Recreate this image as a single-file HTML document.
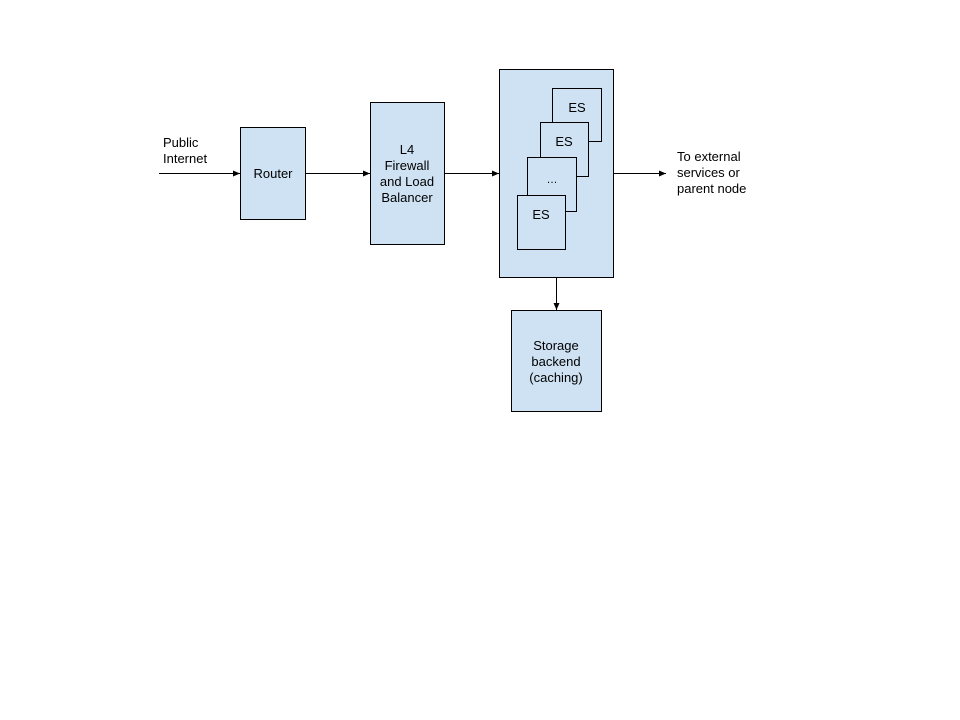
<!DOCTYPE html>
<html><head><style>body{margin:0;background:#fff}svg{display:block}</style></head><body>
<svg width="960" height="720" viewBox="0 0 960 720" xmlns="http://www.w3.org/2000/svg" font-family="Liberation Sans, Arial, sans-serif" font-size="13" fill="#000">
<defs><marker id="a" markerWidth="8" markerHeight="8" refX="7" refY="4" orient="auto" markerUnits="userSpaceOnUse"><path d="M0,1 L7,4 L0,7 z" fill="#000"/></marker></defs>
<g stroke="#000" stroke-width="1">
<line x1="159" y1="173.5" x2="240" y2="173.5" marker-end="url(#a)"/>
<line x1="305" y1="173.5" x2="370" y2="173.5" marker-end="url(#a)"/>
<line x1="444" y1="173.5" x2="499" y2="173.5" marker-end="url(#a)"/>
<line x1="613" y1="173.5" x2="666" y2="173.5" marker-end="url(#a)"/>
<line x1="556.5" y1="277" x2="556.5" y2="310" marker-end="url(#a)"/>
<g fill="#cfe2f3">
<rect x="240.5" y="127.5" width="65" height="92"/>
<rect x="370.5" y="102.5" width="74" height="142"/>
<rect x="499.5" y="69.5" width="114" height="208"/>
<rect x="552.5" y="88.5" width="49" height="53"/>
<rect x="540.5" y="122.5" width="48" height="54"/>
<rect x="527.5" y="157.5" width="49" height="54"/>
<rect x="517.5" y="195.5" width="48" height="54"/>
<rect x="511.5" y="310.5" width="90" height="101"/>
</g></g>
<text x="163" y="147">Public</text><text x="163" y="163">Internet</text>
<text x="273" y="178" text-anchor="middle">Router</text>
<g text-anchor="middle">
<text x="407" y="154">L4</text><text x="407" y="170">Firewall</text><text x="407" y="186">and Load</text><text x="407" y="202">Balancer</text>
<text x="577" y="112">ES</text><text x="564" y="146">ES</text><text x="552" y="183" font-size="11">…</text><text x="541" y="219">ES</text>
<text x="556" y="350">Storage</text><text x="556" y="366">backend</text><text x="556" y="382">(caching)</text>
</g>
<text x="677" y="161">To external</text><text x="677" y="177">services or</text><text x="677" y="193">parent node</text>
</svg>
</body></html>
